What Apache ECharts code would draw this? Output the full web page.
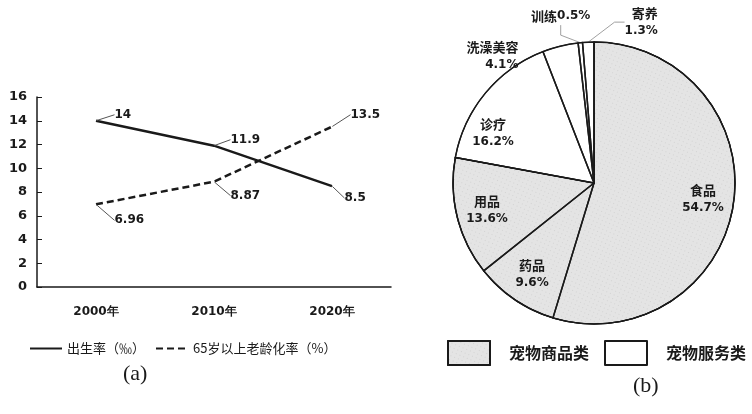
<!DOCTYPE html>
<html>
<head>
<meta charset="utf-8">
<script src="https://cdn.jsdelivr.net/npm/echarts@6/dist/echarts.min.js"></script>
<style>
  html, body { margin: 0; padding: 0; background: #fff; }
  #chart { width: 752px; height: 414px; }
</style>
</head>
<body>
<div id="chart"></div>
<script>
// (a) 折线图数据
var years = ['2000年', '2010年', '2020年'];
var birthRate = [14, 11.9, 8.5];          // 出生率（‰）
var agingRate = [6.96, 8.87, 13.5];       // 65岁以上老龄化率（%）

// (b) 饼图数据
var petItems = ['食品', '药品', '用品', '诊疗', '洗澡美容', '训练', '寄养'];
var petShares = [54.7, 9.6, 13.6, 16.2, 4.1, 0.5, 1.3];
var petGroupOf = ['宠物商品类', '宠物商品类', '宠物商品类', '宠物服务类', '宠物服务类', '宠物服务类', '宠物服务类'];
var petGroups = ['宠物商品类', '宠物服务类'];

var numFont = 'DejaVu Sans';
var cjkFont = 'Noto Sans CJK SC';
var ink = '#1a1a1a';

// label nudges for the line labels (dx, dy from the point)
var birthShift = [[18, -6], [16, -6], [12, 12]];
var agingShift = [[18, 16], [16, 14], [18, -12]];

var chart = echarts.init(document.getElementById('chart'));

var groupTotals = petGroups.map(function (g) {
    var s = 0;
    petShares.forEach(function (v, i) { if (petGroupOf[i] === g) s += v; });
    return Math.round(s * 10) / 10;
});

var pieCenter = [594, 183], pieR = 141;
var outsideNames = ['洗澡美容', '训练', '寄养'];
// extra shifts for pie labels, px
var labelShift = { '洗澡美容': [35, -14], '训练': [132, -83], '寄养': [85, -10], '诊疗': [-16, 20] };

function lineLabelLayout(shifts) {
    return function (p) {
        var lr = p.labelRect;
        var d = shifts[p.dataIndex];
        // label sits left-aligned right of the point; move it and let ECharts draw the leader
        return { x: lr.x + d[0], y: lr.y + lr.height / 2 + d[1], align: 'left', verticalAlign: 'middle' };
    };
}

var option = {
    animation: false,
    title: [
        { text: '(a)', left: 118, top: 358, textStyle: { fontFamily: 'Liberation Serif', fontSize: 22, fontWeight: 'normal', color: ink } },
        { text: '(b)', left: 628, top: 370, textStyle: { fontFamily: 'Liberation Serif', fontSize: 22, fontWeight: 'normal', color: ink } }
    ],
    legend: [
        {
            data: ['出生率（‰）', '65岁以上老龄化率（%）'],
            left: 24, top: 337,
            itemWidth: 32, itemHeight: 14, itemGap: 10,
            textStyle: { fontFamily: cjkFont, fontSize: 13, color: ink }
        },
        {
            data: petGroups,
            left: 442, top: 335,
            icon: 'rect',
            itemWidth: 42, itemHeight: 24, itemGap: 15,
            textStyle: { fontFamily: cjkFont, fontSize: 16, fontWeight: 'bold', color: ink, padding: [0, 0, 0, 14] }
        }
    ],
    grid: { left: 37, top: 97, width: 354, height: 190 },
    xAxis: {
        type: 'category',
        data: years,
        axisLine: { lineStyle: { color: ink, width: 1.5 } },
        axisTick: { inside: true, alignWithLabel: true, length: 5, lineStyle: { color: ink } },
        axisLabel: { margin: 19, color: ink, fontFamily: numFont, fontSize: 12, fontWeight: 'bold' }
    },
    yAxis: {
        type: 'value',
        min: 0, max: 16, interval: 2,
        splitLine: { show: false },
        axisLine: { show: true, lineStyle: { color: ink, width: 1.5 } },
        axisTick: { show: true, inside: true, length: 5, lineStyle: { color: ink } },
        axisLabel: { margin: 10, color: ink, fontFamily: numFont, fontSize: 13, fontWeight: 'bold' }
    },
    series: [
        {
            name: '出生率（‰）',
            type: 'line',
            symbol: 'circle',
            symbolSize: 1,
            showSymbol: true,
            data: birthRate,
            lineStyle: { color: ink, width: 2.5, type: 'solid' },
            itemStyle: { color: 'rgba(0,0,0,0)', borderWidth: 0 },
            label: { show: true, position: 'right', distance: 0, color: ink, fontFamily: numFont, fontSize: 12, fontWeight: 'bold' },
            labelLine: { show: true, lineStyle: { color: '#555', width: 1 } },
            labelLayout: lineLabelLayout(birthShift)
        },
        {
            name: '65岁以上老龄化率（%）',
            type: 'line',
            symbol: 'circle',
            symbolSize: 1,
            showSymbol: true,
            data: agingRate,
            lineStyle: { color: ink, width: 2.5, type: [7, 4] },
            itemStyle: { color: 'rgba(0,0,0,0)', borderWidth: 0 },
            label: { show: true, position: 'right', distance: 0, color: ink, fontFamily: numFont, fontSize: 12, fontWeight: 'bold' },
            labelLine: { show: true, lineStyle: { color: '#555', width: 1 } },
            labelLayout: lineLabelLayout(agingShift)
        },
        {
            // fill layer: goods vs services
            name: 'group',
            type: 'pie',
            center: pieCenter,
            radius: pieR,
            z: 1,
            silent: true,
            label: { show: false },
            labelLine: { show: false },
            data: petGroups.map(function (g, i) {
                return {
                    name: g, value: groupTotals[i],
                    itemStyle: i === 0
                        ? { color: '#e4e4e4', borderColor: ink, borderWidth: 1.2,
                            decal: { symbol: 'circle', symbolSize: 0.7, dashArrayX: [[1, 3]], dashArrayY: [1, 3], color: 'rgba(80,80,80,0.45)', rotation: 0.4 } }
                        : { color: '#ffffff', borderColor: ink, borderWidth: 1.2 }
                };
            })
        },
        {
            name: 'detail',
            type: 'pie',
            center: pieCenter,
            radius: pieR,
            z: 3,
            itemStyle: { color: 'rgba(0,0,0,0)', borderColor: ink, borderWidth: 1.5 },
            label: {
                show: true,
                position: 'inside',
                lineHeight: 18,
                color: ink,
                formatter: function (p) {
                    var sep = p.name === '训练' ? '' : '\n';
                    return '{n|' + p.name + '}' + sep + '{p|' + p.value + '%}';
                },
                rich: {
                    n: { fontFamily: cjkFont, fontSize: 13, fontWeight: 'bold', color: ink, lineHeight: 18 },
                    p: { fontFamily: numFont, fontSize: 12, fontWeight: 'bold', color: ink, lineHeight: 18 }
                }
            },
            labelLine: { show: false },
            labelLayout: function (p) {
                var name = petItems[p.dataIndex];
                var lr = p.labelRect;
                var d = labelShift[name] || [0, 0];
                if (outsideNames.indexOf(name) >= 0) {
                    // anchor point of the label as ECharts placed it
                    var ax = p.align === 'right' ? lr.x + lr.width : (p.align === 'center' ? lr.x + lr.width / 2 : lr.x);
                    var ay = p.verticalAlign === 'top' ? lr.y : (p.verticalAlign === 'bottom' ? lr.y + lr.height : lr.y + lr.height / 2);
                    return { x: ax + d[0], y: ay + d[1] };
                }
                var lx = lr.x + lr.width / 2, ly = lr.y + lr.height / 2;
                return {
                    x: pieCenter[0] + (lx - pieCenter[0]) * 1.5 + d[0],
                    y: pieCenter[1] + (ly - pieCenter[1]) * 1.5 + d[1]
                };
            },
            data: petItems.map(function (n, i) {
                var item = { name: n, value: petShares[i] };
                if (outsideNames.indexOf(n) >= 0) {
                    item.label = { position: 'outside' };
                    item.labelLine = { show: n !== '洗澡美容', length: 10, length2: 10, lineStyle: { color: '#888', width: 0.8 } };
                }
                return item;
            })
        }
    ]
};

chart.setOption(option);
</script>
</body>
</html>
